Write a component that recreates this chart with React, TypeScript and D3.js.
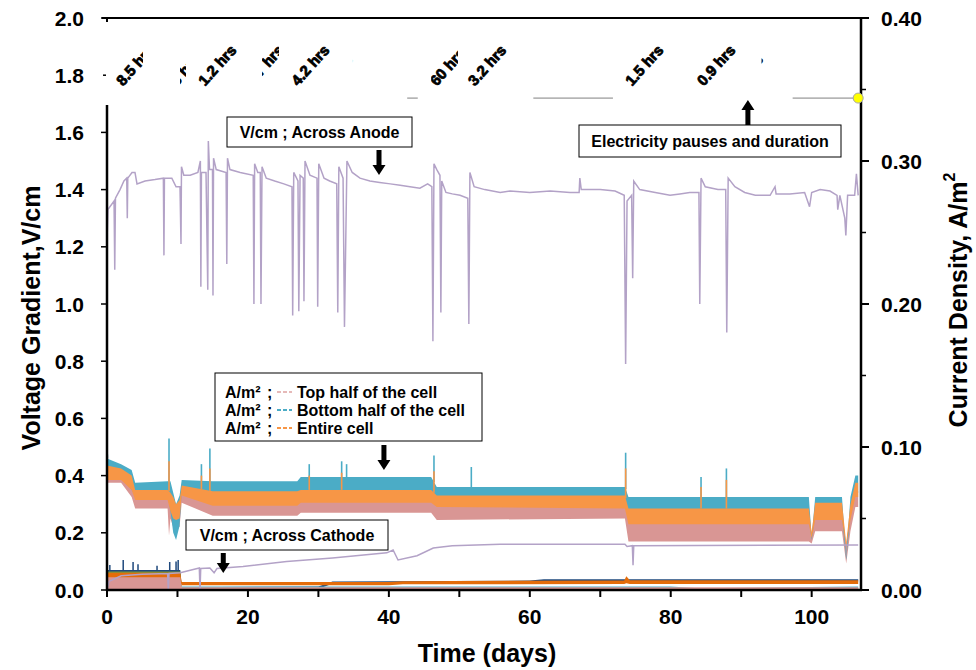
import React from 'react';
import * as d3 from 'd3';

// ---------------- DATA ----------------
const xTicks = [0, 10, 20, 30, 40, 50, 60, 70, 80, 90, 100];
const xTickLabels = [0, 20, 40, 60, 80, 100];
const yLeftTicks = [0, 0.2, 0.4, 0.6, 0.8, 1.0, 1.2, 1.4, 1.6, 1.8, 2.0];
const yRightMajor = [0, 0.1, 0.2, 0.3, 0.4];
const yRightMinor = [0.05, 0.15, 0.25, 0.35];

// V/cm across anode (day, V/cm)
const anodeV: [number, number][] = [
  [0, 0.75], [0.04, 1.25], [0.13, 1.33], [1.0, 1.36], [1.1, 1.12], [1.2, 1.37], [1.85, 1.40], [2.4, 1.43], [2.8, 1.44], [2.88, 1.30], [2.95, 1.44],
  [3.55, 1.46], [3.97, 1.46], [4.26, 1.42], [5.4, 1.43], [6.8, 1.435], [8.0, 1.44], [8.08, 1.17], [8.15, 1.44], [9.2, 1.44], [9.8, 1.41],
  [10.36, 1.41], [10.5, 1.21], [10.57, 1.48], [10.9, 1.45], [11.8, 1.45], [12.9, 1.46], [13.25, 1.50], [13.32, 1.06], [13.4, 1.46], [14.05, 1.46],
  [14.3, 1.05], [14.38, 1.57], [14.55, 1.47], [14.97, 1.47], [15.04, 1.03], [15.12, 1.51], [15.5, 1.47], [16.9, 1.46], [17.0, 1.14], [17.1, 1.51],
  [17.45, 1.47], [18.9, 1.46], [20.75, 1.45], [20.85, 1.00], [20.95, 1.49], [21.4, 1.46], [21.75, 1.46], [21.85, 1.00], [22.0, 1.48], [22.6, 1.44],
  [23.8, 1.43], [25.1, 1.42], [26.25, 1.41], [26.35, 0.96], [26.5, 1.46], [27.1, 1.43], [27.22, 0.975], [27.4, 1.45], [27.85, 1.44], [27.95, 1.01],
  [28.1, 1.50], [28.8, 1.45], [29.8, 1.44], [29.9, 0.99], [30.05, 1.49], [30.8, 1.44], [31.6, 1.43], [32.6, 1.42], [32.75, 0.97], [32.9, 1.48],
  [33.5, 1.44], [33.7, 0.92], [34.05, 1.50], [34.8, 1.46], [35.9, 1.44], [37.3, 1.43], [38.7, 1.425], [40.2, 1.42], [41.6, 1.415], [43.0, 1.41],
  [44.4, 1.405], [45.5, 1.42], [46.1, 1.41], [46.25, 0.87], [46.4, 1.49], [46.8, 1.47], [47.25, 1.45], [47.38, 0.97], [47.5, 1.43], [48.1, 1.39],
  [49.0, 1.385], [50.1, 1.38], [51.2, 1.37], [51.35, 0.93], [51.5, 1.46], [52.1, 1.41], [53.6, 1.40], [55.8, 1.39], [57.2, 1.395], [60.0, 1.39],
  [62.9, 1.395], [65.7, 1.39], [67.0, 1.39], [67.1, 1.44], [67.3, 1.40], [70.0, 1.40], [72.1, 1.395], [73.4, 1.38], [73.6, 0.79], [73.8, 1.36],
  [74.45, 1.38], [74.6, 1.09], [74.75, 1.43], [75.6, 1.40], [77.8, 1.39], [79.9, 1.38], [81.3, 1.385], [82.7, 1.39], [84.0, 1.39], [84.12, 1.00],
  [84.3, 1.44], [84.9, 1.41], [86.7, 1.40], [87.8, 1.40], [87.95, 0.90], [88.15, 1.44], [89.1, 1.41], [90.5, 1.39], [92.0, 1.38], [94.1, 1.38],
  [94.8, 1.41], [94.95, 1.385], [96.9, 1.385], [99.0, 1.39], [99.7, 1.34], [100.0, 1.39], [101.2, 1.40], [102.6, 1.395], [103.6, 1.38], [103.7, 1.33],
  [104.0, 1.38], [104.7, 1.30], [104.85, 1.24], [105.1, 1.38], [106.1, 1.38], [106.35, 1.455], [106.6, 1.38],
];

// V/cm across cathode (day, V/cm)
const cathodeV: [number, number][] = [
  [0, 0.0], [0.3, 0.03], [2, 0.05], [5, 0.055], [8.6, 0.058], [8.7, 0.0], [8.8, 0.058], [10.4, 0.06], [13.1, 0.077], [13.2, 0.0], [13.3, 0.075],
  [14.6, 0.077], [15.2, 0.06], [15.6, 0.075], [19.3, 0.082], [25.5, 0.1], [32, 0.112], [39.7, 0.13], [40.6, 0.14], [41.3, 0.105], [44, 0.12],
  [46.3, 0.147], [49, 0.155], [55.8, 0.16], [73.5, 0.16], [73.8, 0.152], [74.55, 0.155], [74.65, 0.087], [74.75, 0.155], [106.6, 0.157],
];

// Current density bands, A/m2 (day, low, high)
const topHalfBand: [number, number, number][] = [
  [0, 0.075, 0.081], [2, 0.075, 0.081], [3.5, 0.065, 0.074], [4, 0.057, 0.067], [8.6, 0.057, 0.067], [8.8, 0.038, 0.062], [9.0, 0.05, 0.06],
  [9.4, 0.044, 0.055], [10.3, 0.044, 0.055], [10.6, 0.061, 0.07], [15, 0.052, 0.063], [27, 0.052, 0.063], [27.5, 0.054, 0.065], [46, 0.054, 0.065],
  [46.8, 0.049, 0.062], [73.5, 0.05, 0.061], [74, 0.034, 0.05], [99.6, 0.034, 0.05], [100, 0.0326, 0.04], [100.5, 0.041, 0.053], [104.3, 0.041, 0.053],
  [104.9, 0.0186, 0.032], [105.5, 0.041, 0.053], [106.2, 0.058, 0.069], [106.6, 0.058, 0.069],
];
const bottomHalfBand: [number, number, number][] = [
  [0, 0.08, 0.092], [2, 0.08, 0.088], [3.5, 0.07, 0.084], [4, 0.066, 0.075], [8.6, 0.066, 0.076], [9.0, 0.055, 0.076], [9.4, 0.04, 0.068],
  [9.8, 0.035, 0.06], [10.3, 0.045, 0.066], [10.6, 0.069, 0.077], [15, 0.062, 0.076], [27, 0.062, 0.076], [27.5, 0.064, 0.079], [46, 0.064, 0.079],
  [46.8, 0.061, 0.072], [73.5, 0.06, 0.072], [74, 0.049, 0.065], [99.6, 0.049, 0.065], [100, 0.035, 0.037], [100.5, 0.052, 0.065], [104.3, 0.052, 0.065],
  [104.9, 0.021, 0.023], [105.5, 0.052, 0.065], [106.2, 0.068, 0.08], [106.6, 0.068, 0.08],
];
const entireCellBand: [number, number, number][] = [
  [0, 0.077, 0.087], [2, 0.077, 0.085], [3.5, 0.07, 0.08], [4, 0.063, 0.07], [8.6, 0.063, 0.07], [9.0, 0.055, 0.068], [9.4, 0.05, 0.065],
  [9.8, 0.049, 0.06], [10.3, 0.05, 0.063], [10.6, 0.066, 0.073], [15, 0.059, 0.069], [27, 0.059, 0.069], [27.5, 0.061, 0.07], [46, 0.061, 0.07],
  [46.8, 0.058, 0.066], [73.5, 0.057, 0.066], [74, 0.046, 0.057], [99.6, 0.046, 0.057], [100, 0.036, 0.04], [100.5, 0.049, 0.061], [104.3, 0.049, 0.061],
  [104.9, 0.03, 0.033], [105.5, 0.049, 0.06], [106.2, 0.065, 0.075], [106.6, 0.065, 0.075],
];
// spikes (day, peak A/m2)
const topHalfSpikes: [number, number][] = [[0.05, 0.094]];
const bottomHalfSpikes: [number, number][] = [
  [0.05, 0.095], [8.8, 0.106], [13.4, 0.088], [14.6, 0.099], [28.7, 0.088], [33.3, 0.09], [34.0, 0.088], [46.4, 0.094], [51.7, 0.086],
  [73.6, 0.096], [84.3, 0.079], [87.9, 0.085],
];
const entireCellSpikes: [number, number][] = [
  [8.8, 0.09], [13.4, 0.08], [14.6, 0.085], [28.7, 0.08], [33.3, 0.082], [46.4, 0.083], [73.6, 0.085], [84.3, 0.072], [87.9, 0.077],
];

// low-level series near zero, V/cm (day, low, high)
const lowDarkBlue: [number, number, number][] = [[0, 0.045, 0.07], [10.4, 0.045, 0.07], [10.6, 0.004, 0.01], [30, 0.004, 0.012], [32, 0.022, 0.03], [60, 0.025, 0.033], [62, 0.03, 0.038], [106.6, 0.03, 0.038]];
const lowDarkBlueSpikes: [number, number][] = [[0.4, 0.087], [2.3, 0.105], [3.7, 0.098], [4.4, 0.09], [7.1, 0.085], [8.9, 0.098], [9.8, 0.1], [10.1, 0.105]];
const lowGreen: [number, number, number][] = [[0, 0.03, 0.065], [10.4, 0.03, 0.065], [10.6, 0.002, 0.007], [106.6, 0.002, 0.007]];
const lowCyan: [number, number, number][] = [[10.6, 0.005, 0.012], [80, 0.005, 0.012], [84, 0.0, 0.006], [106.6, 0.005, 0.012]];
const lowDarkOrange: [number, number, number][] = [[0, 0.03, 0.06], [10.4, 0.03, 0.06], [10.6, 0.017, 0.028], [40, 0.017, 0.028], [42, 0.02, 0.031], [73.4, 0.021, 0.033], [73.7, 0.024, 0.048], [74.2, 0.021, 0.034], [106.6, 0.021, 0.034]];
const lowPink: [number, number, number][] = [[0, 0, 0.045], [10.4, 0, 0.045], [10.6, 0, 0.01], [106.6, 0, 0.01]];

// electricity pauses
const pauseLevel = 1.72;
const pauseSegments: [number, number][] = [[42.6, 44.1], [60.5, 71.8], [97.3, 106.6]];
const pauseMarkerDay = 106.6;
const pauseLabels = ['8.5 hrs', '3 hrs', '1.2 hrs', '0.7 hrs', '4.2 hrs', '2 hrs', '60 hrs', '3.2 hrs', '1.5 hrs', '0.9 hrs', '7 hrs'];
const pauseLabelDays = [2.27, 9.93, 13.9, 20.6, 27.1, 31.6, 46.8, 52.2, 74.5, 84.7, 89.8];
const pauseLabelClip: ([number, number] | null)[] = [[-1, 5.1], [10.36, 11.2], null, [22.0, 24.4], null, [34.9, 36.5], [46, 49.8], null, null, null, [92.9, 94.5]];

const legendItems = ['Top half of the cell', 'Bottom half of the cell', 'Entire cell'];

// ---------------- STYLE ----------------
const FONT = '"Liberation Sans", Arial, Helvetica, sans-serif';
const C = {
  lav: '#b3a2c7', pink: '#d99694', pinkL: '#e6b9b8', blue: '#4bacc6', orange: '#f79646',
  dOrange: '#e46c0a', dBlue: '#1f497d', green: '#77933c', gray: '#808080',
};

const x = d3.scaleLinear().domain([0, 107]).range([107, 861]);
const yL = d3.scaleLinear().domain([0, 2]).range([590, 18]);
const yR = d3.scaleLinear().domain([0, 0.4]).range([590, 18]);

const bandPath = (data: [number, number, number][], y: d3.ScaleLinear<number, number>) =>
  d3.area<[number, number, number]>().x(d => x(d[0])).y0(d => y(d[1])).y1(d => y(d[2]))(data) || '';

const interpHi = (band: [number, number, number][], day: number) => {
  const i = d3.bisector((d: [number, number, number]) => d[0]).left(band, day);
  if (i <= 0) return band[0][2];
  if (i >= band.length) return band[band.length - 1][2];
  const a = band[i - 1], b = band[i];
  const t = (day - a[0]) / (b[0] - a[0]);
  return a[2] + t * (b[2] - a[2]);
};

const downArrow = (cx: number, y0: number, y1: number) =>
  `M${cx - 2.5},${y0} L${cx + 2.5},${y0} L${cx + 2.5},${y1 - 10} L${cx + 6.5},${y1 - 10} L${cx},${y1} L${cx - 6.5},${y1 - 10} L${cx - 2.5},${y1 - 10} Z`;
const upArrow = (cx: number, y0: number, y1: number) =>
  `M${cx - 2.5},${y0} L${cx + 2.5},${y0} L${cx + 2.5},${y1 + 10} L${cx + 6.5},${y1 + 10} L${cx},${y1} L${cx - 6.5},${y1 + 10} L${cx - 2.5},${y1 + 10} Z`;

export default function App() {
  const lineL = d3.line<[number, number]>().x(d => x(d[0])).y(d => yL(d[1]));
  const spikes = (sp: [number, number][], band: [number, number, number][], color: string) =>
    sp.map((s, i) => (
      <line key={i} x1={x(s[0])} x2={x(s[0])} y1={yR(s[1])} y2={yR(interpHi(band, s[0]))} stroke={color} strokeWidth={1.6} />
    ));

  return (
    <svg width={976} height={670} style={{ position: 'absolute', left: 0, top: 0, background: '#fff' }} fontFamily={FONT}>
      <defs>
        {pauseLabelClip.map((c, i) => c ? (
          <clipPath id={`pclip${i}`} key={i}>
            <rect x={x(c[0])} y={20} width={x(c[1]) - x(c[0])} height={80} />
          </clipPath>
        ) : null)}
        <clipPath id="plot"><rect x={107} y={18} width={754} height={572} /></clipPath>
      </defs>

      <g clipPath="url(#plot)">
        {/* low-level series */}
        <path d={bandPath(lowDarkBlue, yL)} fill={C.dBlue} />
        {lowDarkBlueSpikes.map((s, i) => (
          <line key={i} x1={x(s[0])} x2={x(s[0])} y1={yL(s[1])} y2={yL(0.06)} stroke={C.dBlue} strokeWidth={1.5} />
        ))}
        <path d={bandPath(lowGreen, yL)} fill={C.green} />
        <path d={bandPath(lowCyan, yL)} fill={C.blue} />
        <path d={bandPath(lowDarkOrange, yL)} fill={C.dOrange} />
        <path d={bandPath(lowPink, yL)} fill={C.pink} />

        {/* current density */}
        <path d={bandPath(topHalfBand, yR)} fill={C.pink} />
        {spikes(topHalfSpikes, topHalfBand, C.pink)}
        <path d={bandPath(bottomHalfBand, yR)} fill={C.blue} />
        {spikes(bottomHalfSpikes, bottomHalfBand, C.blue)}
        <path d={bandPath(entireCellBand, yR)} fill={C.orange} />
        {spikes(entireCellSpikes, entireCellBand, C.orange)}

        {/* voltage lines */}
        <path d={lineL(cathodeV) || ''} fill="none" stroke={C.lav} strokeWidth={1.5} />
        <path d={lineL(anodeV) || ''} fill="none" stroke={C.lav} strokeWidth={1.5} />
      </g>

      {/* pauses */}
      {pauseSegments.map((s, i) => (
        <line key={i} x1={x(s[0])} x2={x(s[1])} y1={yL(pauseLevel)} y2={yL(pauseLevel)} stroke={C.gray} strokeWidth={1} />
      ))}
      {pauseLabels.map((t, i) => (
        <g key={i} clipPath={pauseLabelClip[i] ? `url(#pclip${i})` : undefined}>
          <text transform={`translate(${x(pauseLabelDays[i])},${yL(1.76)}) rotate(-48)`} fontSize={15} fontWeight="bold" fill="#000" stroke="#000" strokeWidth={0.8}>{t}</text>
        </g>
      ))}

      {/* axes */}
      <line x1={102} x2={868} y1={18} y2={18} stroke="#000" strokeWidth={2} />
      <line x1={107} x2={107} y1={18} y2={22} stroke="#000" strokeWidth={2} />
      <line x1={107} x2={107} y1={105} y2={591} stroke="#000" strokeWidth={2.5} />
      {yLeftTicks.map(v => (
        <g key={v}>
          <line x1={v === 1.8 ? 103 : 101} x2={v === 1.8 ? 106 : 107} y1={yL(v)} y2={yL(v)} stroke="#000" strokeWidth={1.5} />
          <text x={84} y={yL(v)} textAnchor="end" dominantBaseline="central" fontSize={21} fontWeight="bold">{v.toFixed(1)}</text>
        </g>
      ))}
      <line x1={861} x2={861} y1={18} y2={591} stroke="#000" strokeWidth={2.5} />
      {yRightMajor.map(v => (
        <g key={v}>
          <line x1={861} x2={869} y1={yR(v)} y2={yR(v)} stroke="#000" strokeWidth={2} />
          <text x={881} y={yR(v)} textAnchor="start" dominantBaseline="central" fontSize={21} fontWeight="bold">{v.toFixed(2)}</text>
        </g>
      ))}
      {yRightMinor.map(v => (
        <line key={v} x1={861} x2={866} y1={yR(v)} y2={yR(v)} stroke="#000" strokeWidth={1.5} />
      ))}
      <line x1={106} x2={862} y1={590} y2={590} stroke="#000" strokeWidth={2.5} />
      {xTicks.map(v => (
        <line key={v} x1={x(v)} x2={x(v)} y1={590} y2={597} stroke="#000" strokeWidth={2} />
      ))}
      {xTickLabels.map(v => (
        <text key={v} x={x(v)} y={616} textAnchor="middle" dominantBaseline="central" fontSize={21} fontWeight="bold">{v}</text>
      ))}

      {/* titles */}
      <text x={487} y={653} textAnchor="middle" dominantBaseline="central" fontSize={25} fontWeight="bold">Time (days)</text>
      <text transform="translate(31,318) rotate(-90)" textAnchor="middle" dominantBaseline="central" fontSize={25} fontWeight="bold">Voltage Gradient,V/cm</text>
      <text transform="translate(958,300) rotate(-90)" textAnchor="middle" dominantBaseline="central" fontSize={25} fontWeight="bold">
        Current Density,  A/m<tspan fontSize={16} dy={-9}>2</tspan>
      </text>

      {/* annotation: anode */}
      <rect x={227} y={117} width={185} height={30} fill="#fff" stroke="#000" strokeWidth={1} />
      <text x={319.5} y={132} textAnchor="middle" dominantBaseline="central" fontSize={16} fontWeight="bold">V/cm ; Across  Anode</text>
      <path d={downArrow(x(38.6), 150, 175)} fill="#000" />

      {/* annotation: pauses */}
      <rect x={579} y={125} width={262} height={32} fill="#fff" stroke="#000" strokeWidth={1} />
      <text x={710} y={141} textAnchor="middle" dominantBaseline="central" fontSize={16} fontWeight="bold">Electricity pauses and duration</text>
      <path d={upArrow(x(90.95), 125, 100)} fill="#000" />
      <circle cx={x(pauseMarkerDay)} cy={yL(pauseLevel)} r={5} fill="#ffff00" stroke="#a6a6a6" strokeWidth={1} />

      {/* legend */}
      <rect x={215} y={373} width={267} height={68} fill="#fff" stroke="#000" strokeWidth={1} />
      {legendItems.map((t, i) => {
        const cy = 392 + i * 18;
        const col = [C.pinkL, C.blue, C.orange][i];
        return (
          <g key={t}>
            <text x={225} y={cy} dominantBaseline="central" fontSize={16} fontWeight="bold">A/m²</text>
            <text x={267} y={cy} dominantBaseline="central" fontSize={16} fontWeight="bold">;</text>
            <line x1={277} x2={292} y1={cy} y2={cy} stroke={col} strokeWidth={2} strokeDasharray="4,2" />
            <text x={297} y={cy} dominantBaseline="central" fontSize={16} fontWeight="bold">{t}</text>
          </g>
        );
      })}
      <path d={downArrow(x(39.3), 445, 470)} fill="#000" />

      {/* annotation: cathode */}
      <rect x={186} y={520} width={202} height={30} fill="#fff" stroke="#000" strokeWidth={1} />
      <text x={287} y={535} textAnchor="middle" dominantBaseline="central" fontSize={16} fontWeight="bold">V/cm ; Across  Cathode</text>
      <path d={downArrow(x(16.5), 553, 573)} fill="#000" />
    </svg>
  );
}
